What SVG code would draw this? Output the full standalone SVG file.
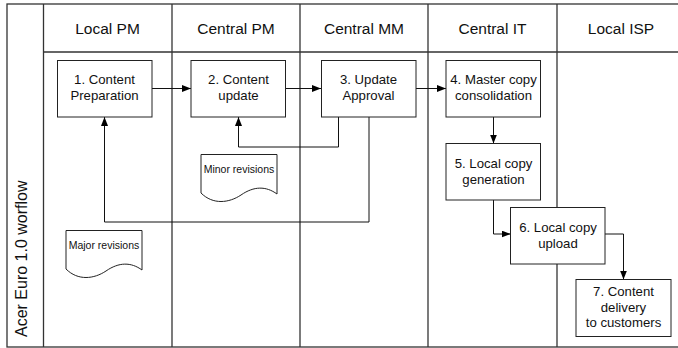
<svg xmlns="http://www.w3.org/2000/svg" width="678" height="348" viewBox="0 0 678 348">
  <style>
    .lane { fill: none; stroke: #333; stroke-width: 1.3; }
    .box { fill: #fff; stroke: #222; stroke-width: 1; }
    .doc { fill: #fff; stroke: #222; stroke-width: 1; }
    .edge { fill: none; stroke: #111; stroke-width: 1; }
    .hdr { font-family: "Liberation Sans", Arial, sans-serif; font-size: 15.5px; fill: #111; text-anchor: middle; }
    .lbl { font-family: "Liberation Sans", Arial, sans-serif; font-size: 13.2px; fill: #111; text-anchor: middle; }
    .note { font-family: "Liberation Sans", Arial, sans-serif; font-size: 10.5px; fill: #111; text-anchor: middle; }
    .title { font-family: "Liberation Sans", Arial, sans-serif; font-size: 16px; fill: #111; }
  </style>
  <defs>
    <marker id="arrow" markerWidth="9" markerHeight="7" refX="9" refY="3.5" orient="auto" markerUnits="userSpaceOnUse">
      <path d="M0,0 L9,3.5 L0,7 Z" fill="#000"/>
    </marker>
  </defs>

  <rect width="678" height="348" fill="#fff"/>

  <!-- swimlane frame -->
  <g id="lanes">
    <rect class="lane" x="7" y="4" width="690" height="343"/>
    <line class="lane" x1="43.5" y1="4" x2="43.5" y2="347"/>
    <line class="lane" x1="43.5" y1="52" x2="690" y2="52"/>
    <line class="lane" x1="172" y1="4" x2="172" y2="347"/>
    <line class="lane" x1="300" y1="4" x2="300" y2="347"/>
    <line class="lane" x1="428" y1="4" x2="428" y2="347"/>
    <line class="lane" x1="557" y1="4" x2="557" y2="347"/>
    <text class="title" transform="translate(27,337) rotate(-90)">Acer Euro 1.0 worflow</text>
    <text class="hdr" x="107.5" y="33.5">Local PM</text>
    <text class="hdr" x="236" y="33.5">Central PM</text>
    <text class="hdr" x="364" y="33.5">Central MM</text>
    <text class="hdr" x="492.5" y="33.5">Central IT</text>
    <text class="hdr" x="621" y="33.5">Local ISP</text>
  </g>

  <!-- connectors -->
  <g id="connectors">
    <line class="edge" x1="152" y1="88.5" x2="191" y2="88.5" marker-end="url(#arrow)"/>
    <line class="edge" x1="286" y1="88.5" x2="321" y2="88.5" marker-end="url(#arrow)"/>
    <line class="edge" x1="416" y1="88.5" x2="446" y2="88.5" marker-end="url(#arrow)"/>
    <line class="edge" x1="493.5" y1="117" x2="493.5" y2="143.5" marker-end="url(#arrow)"/>
    <polyline class="edge" points="338.5,117 338.5,147 238.5,147 238.5,117" marker-end="url(#arrow)"/>
    <polyline class="edge" points="369,117 369,222 104.5,222 104.5,117" marker-end="url(#arrow)"/>
    <polyline class="edge" points="493.5,200 493.5,234 510.5,234" marker-end="url(#arrow)"/>
    <polyline class="edge" points="605,234 623.5,234 623.5,279.5" marker-end="url(#arrow)"/>
  </g>

  <g id="step1">
    <rect class="box" x="57.5" y="60.5" width="94.5" height="56.5"/>
    <text class="lbl" x="104.5" y="84">1. Content</text>
    <text class="lbl" x="104.5" y="100">Preparation</text>
  </g>
  <g id="step2">
    <rect class="box" x="191" y="60.5" width="94.5" height="56.5"/>
    <text class="lbl" x="238.5" y="84">2. Content</text>
    <text class="lbl" x="238.5" y="100">update</text>
  </g>
  <g id="step3">
    <rect class="box" x="321.5" y="60.5" width="94.5" height="56.5"/>
    <text class="lbl" x="368.5" y="84">3. Update</text>
    <text class="lbl" x="368.5" y="100">Approval</text>
  </g>
  <g id="step4">
    <rect class="box" x="446" y="60.5" width="94.5" height="56.5"/>
    <text class="lbl" x="493.5" y="84">4. Master copy</text>
    <text class="lbl" x="493.5" y="100">consolidation</text>
  </g>
  <g id="step5">
    <rect class="box" x="446" y="143.5" width="94.5" height="56.5"/>
    <text class="lbl" x="493.5" y="167.5">5. Local copy</text>
    <text class="lbl" x="493.5" y="183.5">generation</text>
  </g>
  <g id="step6">
    <rect class="box" x="510.5" y="207.5" width="94.5" height="56.5"/>
    <text class="lbl" x="558" y="231.5">6. Local copy</text>
    <text class="lbl" x="558" y="247.5">upload</text>
  </g>
  <g id="step7">
    <rect class="box" x="576" y="279.5" width="95" height="57"/>
    <text class="lbl" x="623.5" y="296">7. Content</text>
    <text class="lbl" x="623.5" y="311.5">delivery</text>
    <text class="lbl" x="623.5" y="327">to customers</text>
  </g>

  <g id="minor-revisions">
    <path class="doc" d="M201,154.5 H277 V194 C266,186 254,186 241,195 C229,203 213,205 201,193 Z"/>
    <text class="note" x="239" y="172.5">Minor revisions</text>
  </g>
  <g id="major-revisions">
    <path class="doc" d="M66,230.5 H142 V270 C131,262 119,262 106,271 C94,279 78,281 66,269 Z"/>
    <text class="note" x="104" y="248.5">Major revisions</text>
  </g>
</svg>
